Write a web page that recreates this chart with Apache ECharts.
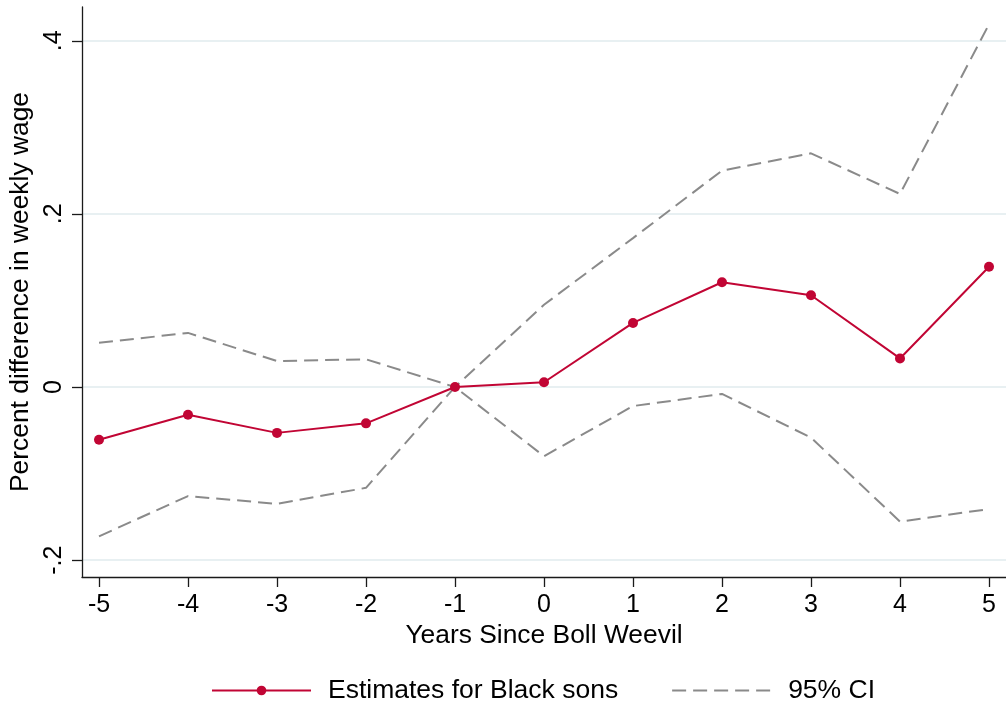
<!DOCTYPE html>
<html>
<head>
<meta charset="utf-8">
<script src="https://cdn.jsdelivr.net/npm/echarts@6/dist/echarts.min.js"></script>
<style>
  html, body { margin: 0; padding: 0; background: #ffffff; }
  #chart { width: 1006px; height: 707px; }
</style>
</head>
<body>
<div id="chart"></div>
<script>
// Event-study estimates around the boll weevil's arrival
const years = [-5, -4, -3, -2, -1, 0, 1, 2, 3, 4, 5];
const estimates = [-0.061, -0.032, -0.053, -0.042, 0, 0.0055, 0.074, 0.121, 0.106, 0.033, 0.139];
const ciUpper = [0.051, 0.0625, 0.030, 0.032, 0, 0.095, 0.172, 0.250, 0.270, 0.223, 0.419];
const ciLower = [-0.1725, -0.126, -0.135, -0.1165, 0, -0.080, -0.022, -0.008, -0.0585, -0.1555, -0.141];
const yTicks = [-0.2, 0, 0.2, 0.4];

const FONT = '"Liberation Sans", Arial, Helvetica, sans-serif';
const RED = '#c10534';
const GRAY = '#8a8a8a';

const pairs = vals => years.map((x, i) => [x, vals[i]]);
const fmtY = v => (v === 0 ? '0' : String(+v.toFixed(2)).replace('0.', '.'));

const chart = echarts.init(document.getElementById('chart'), null, { renderer: 'canvas' });

chart.setOption({
  animation: false,
  backgroundColor: '#ffffff',
  textStyle: { fontFamily: FONT, color: '#000' },
  grid: { left: 82, right: 0, top: 7, bottom: 130, containLabel: false, outerBoundsMode: 'none' },
  legend: {
    left: 211,
    top: 677,
    padding: 0,
    itemWidth: 99,
    itemHeight: 12,
    itemGap: 53,
    textStyle: { fontFamily: FONT, fontSize: 26.5, color: '#000', padding: [0, 0, 0, 12] },
    data: [
      'Estimates for Black sons',
      { name: '95% CI', itemStyle: { opacity: 0 } }
    ]
  },
  xAxis: {
    type: 'value',
    min: -5.191,
    max: 5.191,
    name: 'Years Since Boll Weevil',
    nameLocation: 'middle',
    nameGap: 44,
    nameTextStyle: { fontFamily: FONT, fontSize: 26.4, color: '#000' },
    axisLine: { show: true, onZero: false, lineStyle: { color: '#1a1a1a', width: 1.3 } },
    axisTick: { show: true, length: 10, customValues: years, lineStyle: { color: '#1a1a1a', width: 1.3 } },
    axisLabel: { customValues: years, margin: 16, fontFamily: FONT, fontSize: 25, color: '#000' },
    splitLine: { show: false }
  },
  yAxis: {
    type: 'value',
    min: -0.2195,
    max: 0.439,
    name: 'Percent difference in weekly wage',
    nameLocation: 'middle',
    nameGap: 39,
    nameRotate: 90,
    nameTextStyle: { fontFamily: FONT, fontSize: 26.4, color: '#000' },
    axisLine: { show: true, onZero: false, lineStyle: { color: '#1a1a1a', width: 1.3 } },
    axisTick: { show: true, length: 10, customValues: yTicks, lineStyle: { color: '#1a1a1a', width: 1.3 } },
    axisLabel: { customValues: yTicks, rotate: 90, margin: 15, fontFamily: FONT, fontSize: 25, color: '#000', formatter: fmtY },
    splitLine: { show: true, lineStyle: { color: '#e8f0f2', width: 2 } }
  },
  series: [
    {
      name: '95% CI',
      type: 'line',
      data: pairs(ciUpper),
      showSymbol: false,
      symbol: 'none',
      lineStyle: { color: GRAY, width: 2, type: [14, 7] },
      itemStyle: { color: GRAY },
      z: 2
    },
    {
      name: '95% CI',
      type: 'line',
      data: pairs(ciLower),
      showSymbol: false,
      symbol: 'none',
      lineStyle: { color: GRAY, width: 2, type: [14, 7] },
      itemStyle: { color: GRAY },
      z: 2
    },
    {
      name: 'Estimates for Black sons',
      type: 'line',
      data: pairs(estimates),
      symbol: 'circle',
      symbolSize: 10,
      lineStyle: { color: RED, width: 2 },
      itemStyle: { color: RED },
      z: 3
    }
  ]
});
</script>
</body>
</html>
